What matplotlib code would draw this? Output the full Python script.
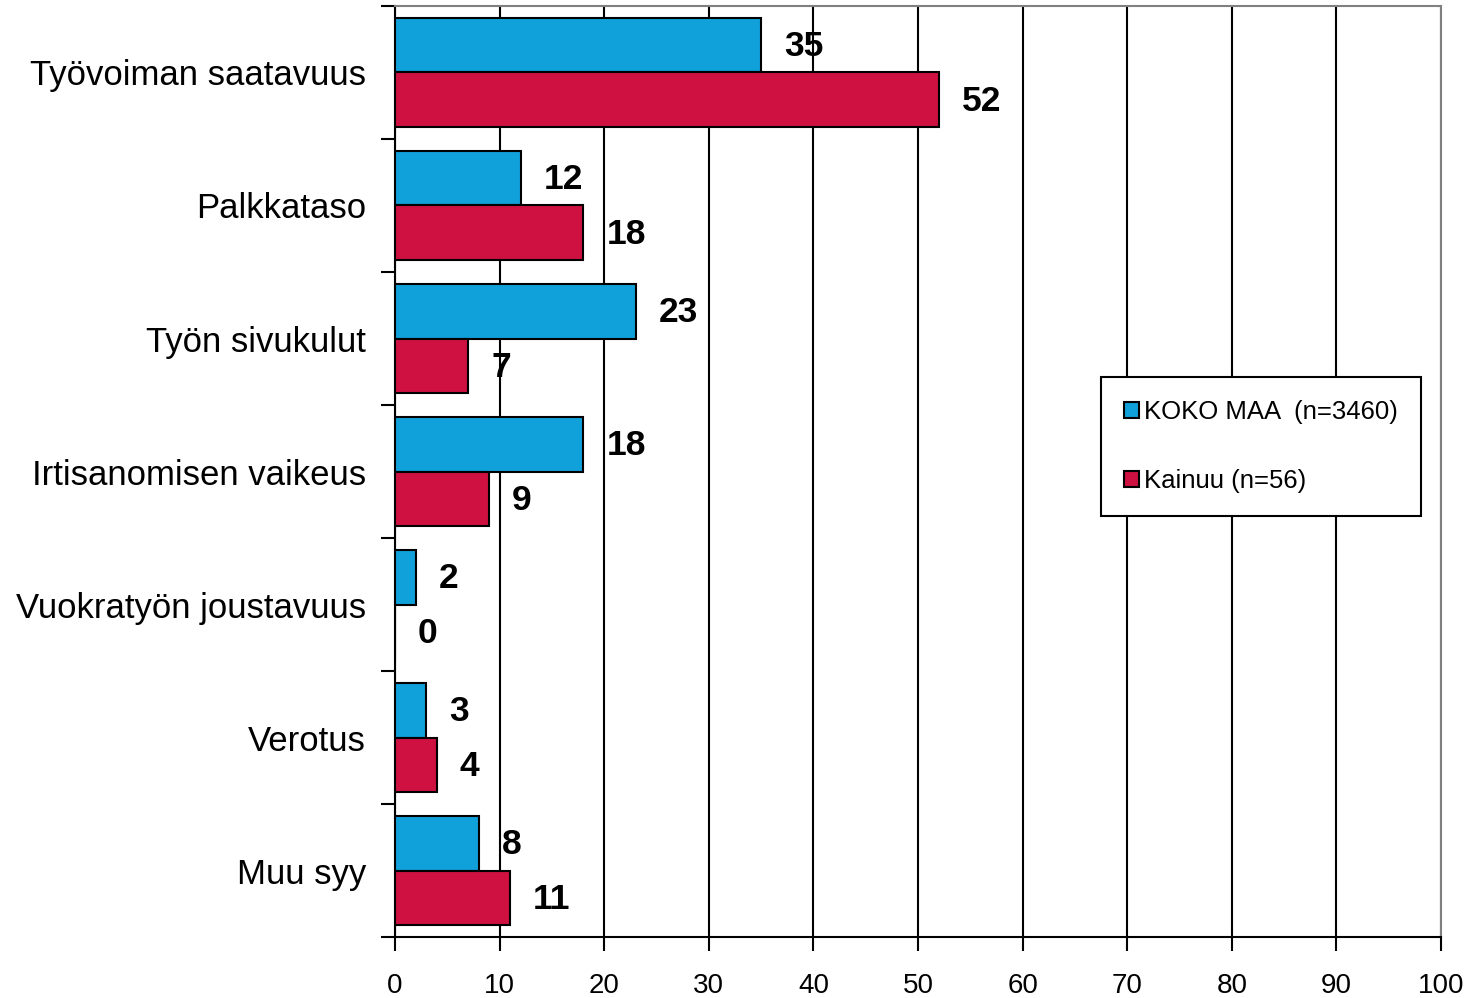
import matplotlib
matplotlib.use("Agg")
from matplotlib import pyplot as plt
from matplotlib.ticker import FixedLocator, MultipleLocator
import numpy as np

plt.rcParams["font.family"] = ["Liberation Sans", "DejaVu Sans"]

categories = [
    "Työvoiman saatavuus",
    "Palkkataso",
    "Työn sivukulut",
    "Irtisanomisen vaikeus",
    "Vuokratyön joustavuus",
    "Verotus",
    "Muu syy",
]
koko_maa = [35, 12, 23, 18, 2, 3, 8]
kainuu = [52, 18, 7, 9, 0, 4, 11]
series_names = ["KOKO MAA  (n=3460)", "Kainuu (n=56)"]

blue = "#10A0DA"
red = "#CE1141"

fig = plt.figure(figsize=(14.75, 9.98), dpi=100)
ax = fig.add_axes([0.2678, 0.0611, 0.7092, 0.9329])

y = np.arange(len(categories))
h = 0.41
b1 = ax.barh(y - h / 2, koko_maa, height=h, color=blue, edgecolor="black",
             linewidth=1.5, label=series_names[0], zorder=3)
b2 = ax.barh(y + h / 2, kainuu, height=h, color=red, edgecolor="black",
             linewidth=1.5, label=series_names[1], zorder=3)

# arvot palkkien perään
for bars, vals in ((b1, koko_maa), (b2, kainuu)):
    for bar, v in zip(bars, vals):
        ax.text(v + 2.2, bar.get_y() + bar.get_height() / 2 + 0.01, f"{v}",
                ha="left", va="center", fontsize=25.5, fontweight="bold", zorder=4)

ax.set_xlim(0, 100)
ax.set_ylim(len(categories) - 0.5, -0.5)
ax.xaxis.set_major_locator(MultipleLocator(10))
ax.grid(axis="x", color="black", linewidth=1.5, zorder=1)
ax.set_axisbelow(True)

ax.set_yticks(y)
ax.set_yticklabels(categories, fontsize=25)
ax.yaxis.set_minor_locator(FixedLocator(np.arange(-0.5, len(categories), 1)))
ax.tick_params(axis="y", which="major", length=0, pad=21)
ax.tick_params(axis="y", which="minor", length=10, width=1.5, direction="out")
ax.tick_params(axis="x", length=10, width=1.5, direction="out", labelsize=20, pad=16)

for s in ("left", "bottom"):
    ax.spines[s].set_color("black")
    ax.spines[s].set_linewidth(1.5)
for s in ("top", "right"):
    ax.spines[s].set_color("#808080")
    ax.spines[s].set_linewidth(1.5)

leg = ax.legend(loc="upper left", bbox_to_anchor=(0.675, 0.6015), fontsize=18.5,
                frameon=True, fancybox=False, framealpha=1, edgecolor="black",
                handlelength=0.58, handleheight=0.58, handletextpad=0.2,
                labelspacing=1.75, borderpad=0.9, borderaxespad=0)
leg.get_frame().set_linewidth(1.5)
for p in leg.get_patches():
    p.set_linewidth(1.5)

plt.savefig("out.png", dpi=100)
